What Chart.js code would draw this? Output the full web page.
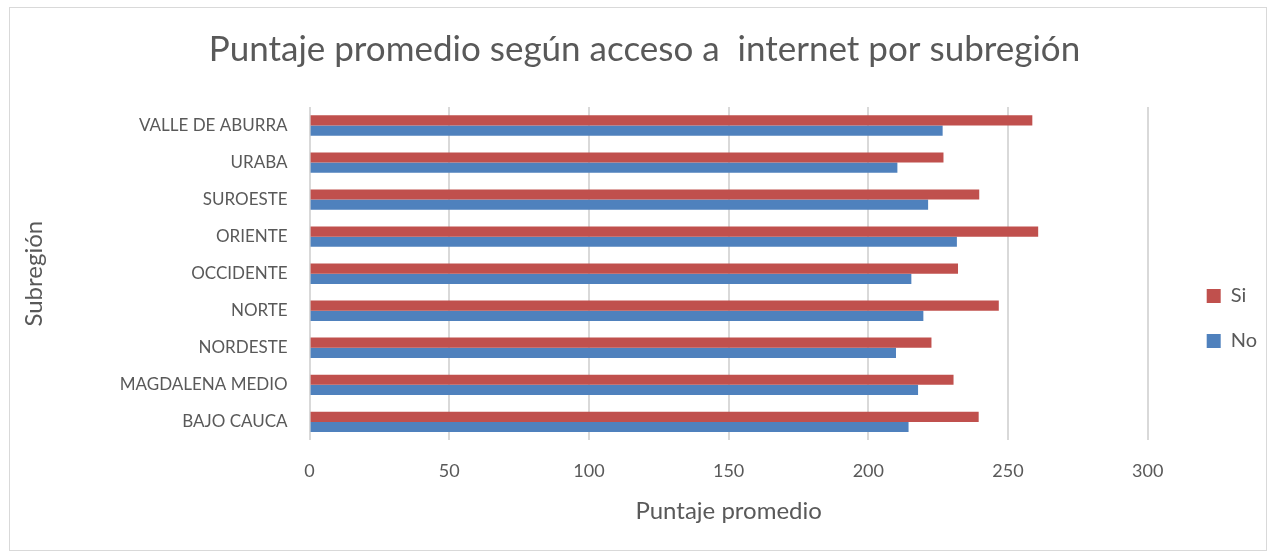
<!DOCTYPE html>
<html>
<head>
<meta charset="utf-8">
<script src="https://cdn.jsdelivr.net/npm/chart.js@4"></script>
<style>
  html, body { margin: 0; padding: 0; background: #fff; }
  #wrap { position: absolute; left: 9px; top: 7px; width: 1258px; height: 544px; border: 1px solid #d9d9d9; box-sizing: border-box; }
  canvas { display: block; }
</style>
</head>
<body>
<div id="wrap"><canvas id="chart" width="1256" height="542"></canvas></div>
<script>
const subregions = ['VALLE DE ABURRA', 'URABA', 'SUROESTE', 'ORIENTE', 'OCCIDENTE', 'NORTE', 'NORDESTE', 'MAGDALENA MEDIO', 'BAJO CAUCA'];
const siScores = [258.7, 226.9, 239.7, 260.8, 232.1, 246.7, 222.6, 230.5, 239.5];
const noScores = [226.6, 210.4, 221.4, 231.7, 215.4, 219.7, 209.9, 217.8, 214.4];

const textColor = '#595959';
const fontFamily = 'Lato, "Open Sans", sans-serif';

// push the legend away from the plot and lower, and the title a bit right, like the Excel original
const layoutNudge = {
    id: 'layoutNudge',
    afterLayout(chart) {
        const lg = chart.legend;
        lg.left += 34;
        lg.right += 34;
        lg.top += 53;
        lg.bottom += 53;
        const tb = chart.titleBlock;
        tb.left += 20;
        tb.right += 20;
    }
};

const ctx = document.getElementById('chart').getContext('2d');
new Chart(ctx, {
    type: 'bar',
    data: {
        labels: subregions,
        datasets: [
            { label: 'Si', data: siScores, backgroundColor: '#c0504d' },
            { label: 'No', data: noScores, backgroundColor: '#4f81bd' }
        ]
    },
    options: {
        indexAxis: 'y',
        responsive: false,
        animation: false,
        categoryPercentage: 0.55,
        barPercentage: 1,
        layout: { padding: { left: 6, right: 33, top: 0, bottom: 27 } },
        plugins: {
            title: {
                display: true,
                text: 'Puntaje promedio según acceso a  internet por subregión',
                color: textColor,
                font: { family: fontFamily, size: 35, weight: 'normal' },
                padding: { top: 21, bottom: 36 }
            },
            legend: {
                position: 'right',
                labels: {
                    color: textColor,
                    font: { family: fontFamily, size: 20 },
                    boxWidth: 14,
                    boxHeight: 14,
                    padding: 25
                }
            },
            tooltip: { enabled: false }
        },
        scales: {
            x: {
                min: 0,
                max: 300,
                ticks: { stepSize: 50, color: textColor, font: { family: fontFamily, size: 18 }, padding: 20 },
                grid: { color: '#d9d9d9', lineWidth: 2, drawTicks: false },
                border: { display: false },
                title: { display: true, text: 'Puntaje promedio', color: textColor, font: { family: fontFamily, size: 24, lineHeight: 1 }, padding: { top: -3, bottom: 0 } }
            },
            y: {
                ticks: { color: textColor, font: { family: fontFamily, size: 17 }, padding: 14 },
                grid: { display: false },
                border: { display: false },
                title: { display: true, text: 'Subregión', color: textColor, font: { family: fontFamily, size: 24 }, padding: { top: 4, bottom: 57 } }
            }
        }
    },
    plugins: [layoutNudge]
});
</script>
</body>
</html>
